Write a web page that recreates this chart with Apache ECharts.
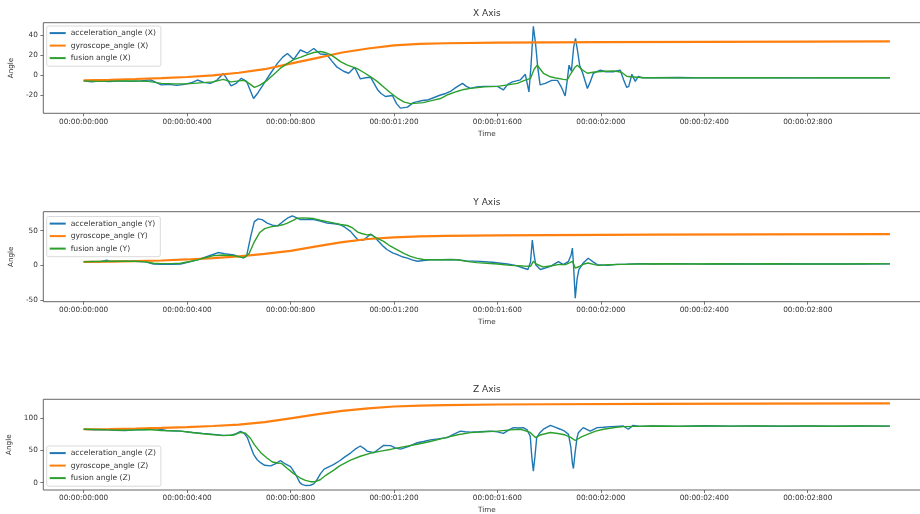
<!DOCTYPE html>
<html>
<head>
<meta charset="utf-8">
<title>Angle estimation per axis</title>
<script src="https://cdn.jsdelivr.net/npm/echarts@6/dist/echarts.min.js"></script>
<style>
  html, body { margin: 0; padding: 0; background: #ffffff; }
  #chart { width: 920px; height: 514px; }
</style>
</head>
<body>
<div id="chart"></div>
<script>
// Time axis ticks (milliseconds) and their printed labels
const timeTicks = [0, 400, 800, 1200, 1600, 2000, 2400, 2800];
const timeTickLabels = ['00:00:00:000', '00:00:00:400', '00:00:00:800', '00:00:01:200',
                        '00:00:01:600', '00:00:02:000', '00:00:02:400', '00:00:02:800'];

// Angle ticks for each panel
const angleTicksX = [-20, 0, 20, 40];
const angleTicksY = [-50, 0, 50];
const angleTicksZ = [0, 50, 100];

// ---- X axis: [time ms, angle deg] ----
const accelX = [[0,-5.5],[30,-6.5],[60,-5.8],[100,-6.2],[140,-5.5],[180,-6],[220,-5.5],[259,-4.5],[280,-7],[300,-9.5],[330,-9],[360,-10],[390,-9],[420,-7],[440,-4.7],[465,-7],[490,-8],[515,-5],[540,1.8],[555,-4],[570,-10.5],[590,-8],[610,-3],[630,-6],[657,-23],[675,-17],[690,-11],[705,-5],[723,2],[750,12],[770,18],[788,21.5],[812,15.5],[838,25],[865,22],[890,26.5],[915,21],[940,20.5],[960,14],[980,8],[1005,4],[1025,2],[1048,8],[1070,-3.5],[1090,-2.5],[1110,-2],[1136,-14],[1150,-18],[1167,-21],[1194,-20],[1210,-28],[1225,-32.5],[1252,-31.5],[1275,-27],[1291,-26],[1310,-25],[1329,-24.5],[1355,-22],[1380,-19.5],[1400,-18],[1418,-16],[1440,-12],[1465,-8],[1480,-11],[1496,-13],[1520,-11.5],[1546,-11],[1575,-11],[1600,-11],[1623,-14.5],[1640,-9],[1658,-6.5],[1689,-4.5],[1708,1],[1722,-16.5],[1730,10],[1739,48.5],[1748,30],[1756,8],[1765,-9.5],[1785,-8],[1810,-5],[1832,-5],[1848,-12],[1862,-20.5],[1870,-5],[1877,10],[1886,4],[1895,28],[1902,36.5],[1910,24],[1918,10],[1930,2],[1948,-13],[1960,-6],[1971,2],[1998,5],[2020,3.5],[2048,3.5],[2075,5],[2088,-4.5],[2100,-12],[2108,-11],[2120,1],[2133,-6],[2145,-1],[2160,-2.5],[2200,-2.5],[2300,-2.2],[2400,-2.6],[2500,-2.3],[2600,-2.4],[2700,-2.5],[2800,-2.6],[2900,-2.4],[3000,-2.5],[3118,-2.4]];
const gyroX = [[0,-5],[100,-4.5],[200,-3.7],[300,-2.8],[400,-1.7],[500,0],[600,2.5],[700,6],[800,11.5],[900,17],[1000,22.5],[1100,26.5],[1200,29.5],[1300,31],[1400,31.7],[1600,32.2],[1800,32.5],[2000,32.7],[2400,33],[2800,33.3],[3118,33.5]];
const fusionX = [[0,-5.5],[50,-6],[100,-5.8],[150,-5.5],[200,-5.7],[250,-6],[300,-8],[350,-8.5],[400,-8.5],[450,-7.5],[500,-6.5],[540,-4],[570,-6.5],[600,-5.5],[620,-5],[640,-8],[660,-12],[680,-10],[710,-5],[740,2],[761,7],[790,12],[812,15.5],[840,18],[865,20.5],[890,22.5],[915,23.5],[935,22.5],[955,20.5],[975,17],[993,13.5],[1020,10],[1058,6.5],[1085,2.5],[1110,-1.5],[1135,-6],[1160,-11.5],[1185,-17],[1213,-22.5],[1240,-26.5],[1264,-28],[1290,-27.5],[1314,-27],[1345,-25],[1380,-23],[1410,-19],[1444,-16],[1470,-14],[1496,-13],[1550,-11.5],[1600,-11],[1640,-9.5],[1677,-8],[1705,-5],[1728,-3],[1742,6],[1754,10],[1766,6],[1778,2],[1805,-1.5],[1832,-3],[1855,-4],[1870,-4.5],[1885,2],[1900,8],[1909,10],[1925,6],[1948,2],[1970,3],[1986,3.5],[2020,4],[2048,4.3],[2080,3],[2100,-1],[2114,-1.5],[2140,-2],[2170,-2.5],[2250,-2.3],[2350,-2.6],[2450,-2.3],[2550,-2.5],[2650,-2.4],[2750,-2.6],[2850,-2.4],[2950,-2.5],[3050,-2.4],[3118,-2.5]];

// ---- Y axis ----
const accelY = [[0,5],[30,5.5],[60,5],[90,7.5],[100,5.5],[150,6],[200,6],[240,5],[270,2],[300,1.5],[340,1.5],[375,2],[410,5],[440,8],[470,12],[503,16],[520,18.5],[545,17],[580,15],[600,13],[618,11],[630,13],[645,40],[660,63],[675,67],[690,66],[710,61],[730,58],[750,57],[770,63],[788,68],[807,71.5],[822,69],[838,66],[865,66],[890,66],[915,64],[942,61],[970,60],[993,58.5],[1010,55],[1032,49],[1048,42],[1060,37],[1083,36.5],[1100,42],[1112,45],[1125,41],[1141,34.5],[1160,27],[1174,22.5],[1195,18],[1213,15.5],[1235,12],[1252,10.5],[1270,8],[1291,6],[1315,7],[1341,8.2],[1380,8],[1420,8.5],[1444,8],[1480,6.5],[1534,5.8],[1580,4.5],[1638,2],[1670,0],[1700,-3.8],[1718,-6],[1728,5],[1735,36.5],[1742,15],[1748,1],[1766,-6],[1785,-4],[1805,-1.4],[1836,5.5],[1855,1],[1875,5.8],[1885,15],[1890,25],[1895,-3.8],[1901,-47.5],[1908,-20],[1915,-6],[1932,3.4],[1951,10.2],[1970,5],[1986,1],[2025,0],[2060,1.5],[2100,1.8],[2150,2.5],[2200,2],[2300,2.5],[2400,1.8],[2500,2.3],[2600,2],[2700,2.4],[2800,1.9],[2900,2.2],[3000,2],[3118,2.1]];
const gyroY = [[0,5],[100,5.3],[200,6],[300,7],[400,8.5],[500,10.5],[600,13],[700,16.5],[800,21],[900,27.5],[1000,33.5],[1100,38],[1200,40.5],[1300,41.8],[1400,42.5],[1600,43.2],[1800,43.7],[2200,44.2],[2600,44.6],[3118,45]];
const fusionY = [[0,5],[50,5.5],[100,6],[150,6],[200,6],[240,5],[270,3],[300,2.5],[340,2.5],[375,3],[410,5.5],[440,8],[470,11],[503,14],[540,15],[580,14],[618,11],[640,17],[660,34],[680,47],[700,53],[723,55.5],[750,57],[770,58.5],[788,61],[810,65],[826,68],[850,68.5],[870,68],[890,67.5],[915,65],[942,63],[970,61],[993,59],[1020,57.5],[1040,54],[1060,48],[1075,46],[1095,44],[1110,44.5],[1130,40],[1160,34.5],[1185,28],[1213,22.5],[1240,17],[1264,13],[1290,10],[1314,8.5],[1350,8],[1400,8.2],[1447,8],[1480,6],[1520,4],[1560,3],[1600,2],[1650,0],[1700,-1],[1728,-1.4],[1739,5.8],[1750,2],[1778,-2.4],[1810,-0.5],[1840,1.5],[1863,1],[1880,4],[1890,5.8],[1901,-3.8],[1915,-2],[1935,2],[1951,3.4],[1975,1],[1990,0],[2030,0.8],[2080,1.5],[2150,2],[2250,2.3],[2350,1.9],[2450,2.4],[2550,2],[2650,2.3],[2750,1.9],[2850,2.2],[2950,2],[3050,2.3],[3118,2.1]];

// ---- Z axis ----
const accelZ = [[0,83],[40,82],[80,82.5],[120,81.5],[160,81],[200,82],[240,82.5],[280,84],[320,81],[375,80],[420,78],[460,76.5],[503,75],[540,73.5],[568,73.5],[590,76],[607,79.5],[620,77],[633,70],[645,57],[657,44],[670,36],[684,31],[700,27],[723,26],[745,30],[761,34.5],[780,29],[800,25],[815,16],[826,8],[836,0],[846,-3],[860,-4.5],[877,-4],[890,-2],[903,5],[916,14],[930,21],[950,25],[966,28],[990,34],[1010,40],[1032,46],[1050,52],[1070,57],[1085,53],[1096,49],[1122,46.5],[1140,52],[1160,58],[1187,57.5],[1205,54],[1225,52],[1255,56],[1290,62],[1315,64],[1341,66.5],[1370,68],[1406,70],[1430,75],[1457,80],[1475,79],[1496,78.5],[1530,79],[1573,80],[1600,79],[1623,76.5],[1645,82],[1662,85.5],[1680,85],[1700,85.5],[1715,82],[1727,72],[1733,40],[1739,18],[1745,40],[1752,70],[1765,78],[1778,83],[1805,89],[1825,86],[1843,83],[1860,80],[1875,75],[1884,55],[1890,30],[1894,22],[1900,45],[1908,70],[1913,77.5],[1932,85.5],[1959,80],[1986,85.5],[2010,86],[2037,87],[2060,87.5],[2087,88],[2106,83],[2125,89],[2150,87.5],[2200,88],[2300,87.5],[2400,88.3],[2500,87.8],[2600,88],[2700,87.6],[2800,88.1],[2900,87.8],[3000,88],[3118,87.8]];
const gyroZ = [[0,83],[100,83.3],[200,84],[300,85],[400,86.3],[500,88],[600,90.3],[700,94],[800,100],[900,106],[1000,111.5],[1100,115.5],[1200,118.3],[1300,119.8],[1400,120.6],[1600,121.4],[1800,121.8],[2200,122.4],[2600,122.8],[3118,123.2]];
const fusionZ = [[0,83],[50,82.5],[100,82],[150,81.5],[200,82],[250,82.5],[300,81],[375,80],[420,78],[460,76],[503,74.5],[540,73],[580,74],[607,78],[625,77],[645,69],[660,59],[684,47],[710,38],[730,32],[750,30.5],[765,30],[788,22],[812,14],[835,8],[855,4],[877,1.5],[895,1.5],[915,4.5],[935,11],[966,19],[990,26],[1032,35],[1070,41],[1110,46],[1150,49],[1190,52],[1240,56],[1290,59.6],[1340,64],[1400,70],[1447,74.5],[1496,77.7],[1550,79],[1600,80],[1650,82],[1690,83],[1727,78],[1747,70],[1765,74],[1805,78],[1840,76],[1863,74],[1885,70],[1901,65.5],[1925,71],[1948,75],[1980,80],[2010,83],[2060,86],[2087,87],[2130,87.5],[2200,88],[2300,87.7],[2400,88.1],[2500,87.9],[2600,88.2],[2700,87.8],[2800,88],[2900,87.7],[3000,88.1],[3118,87.9]];

const BLUE = '#1f77b4', ORANGE = '#ff7f0e', GREEN = '#2ca02c';
const FONT = 'DejaVu Sans';
const TEXT = '#333333';

const panels = [
  { key: 'X', title: 'X Axis', top: 22.7, height: 90.6, yMin: -37.6, yMax: 52, yTicks: angleTicksX,
    acc: accelX, gyro: gyroX, fus: fusionX, legendTop: 26 },
  { key: 'Y', title: 'Y Axis', top: 211.7, height: 90, yMin: -52.4, yMax: 77.4, yTicks: angleTicksY,
    acc: accelY, gyro: gyroY, fus: fusionY, legendTop: 216.5 },
  { key: 'Z', title: 'Z Axis', top: 399.3, height: 90.7, yMin: -11.4, yMax: 129.5, yTicks: angleTicksZ,
    acc: accelZ, gyro: gyroZ, fus: fusionZ, legendTop: 446 }
];

const plotLeft = 43.3;
const plotWidth = 887;
const plotCenter = plotLeft + plotWidth / 2;

const option = {
  animation: false,
  backgroundColor: '#ffffff',
  textStyle: { fontFamily: FONT },
  title: panels.map(p => ({
    text: p.title,
    left: plotCenter,
    textAlign: 'center',
    top: p.top - 14,
    padding: 0,
    textStyle: { fontFamily: FONT, fontSize: 9, fontWeight: 'normal', color: TEXT }
  })),
  grid: panels.map(p => ({
    left: plotLeft, top: p.top, width: plotWidth, height: p.height,
    show: true, borderColor: '#555555', borderWidth: 0.9, backgroundColor: 'transparent',
    containLabel: false, outerBoundsMode: 'none'
  })),
  xAxis: panels.map((p, i) => ({
    type: 'value', gridIndex: i, min: -156, max: 3274, position: 'bottom',
    name: 'Time', nameLocation: 'middle', nameGap: 17,
    nameTextStyle: { fontFamily: FONT, fontSize: 7.2, color: TEXT },
    axisLine: { show: false, onZero: false },
    splitLine: { show: false },
    axisTick: { show: true, length: 3, inside: false, customValues: timeTicks,
                lineStyle: { color: '#555555', width: 0.8 } },
    axisLabel: { show: true, margin: 5, fontFamily: FONT, fontSize: 7.3, color: TEXT,
                 customValues: timeTicks,
                 formatter: v => { const k = timeTicks.indexOf(v); return k >= 0 ? timeTickLabels[k] : ''; } }
  })),
  yAxis: panels.map((p, i) => ({
    type: 'value', gridIndex: i, min: p.yMin, max: p.yMax, position: 'left',
    name: 'Angle', nameLocation: 'middle', nameGap: 24, nameRotate: 90,
    nameTextStyle: { fontFamily: FONT, fontSize: 7.2, color: TEXT },
    axisLine: { show: false, onZero: false },
    splitLine: { show: false },
    axisTick: { show: true, length: 3, inside: false, customValues: p.yTicks,
                lineStyle: { color: '#555555', width: 0.8 } },
    axisLabel: { show: true, margin: 5.5, fontFamily: FONT, fontSize: 7.3, color: TEXT,
                 customValues: p.yTicks }
  })),
  legend: panels.map(p => ({
    orient: 'vertical',
    left: 46.7, top: p.legendTop,
    data: ['acceleration_angle (' + p.key + ')', 'gyroscope_angle (' + p.key + ')', 'fusion angle (' + p.key + ')'],
    icon: 'rect', itemWidth: 16, itemHeight: 2, itemGap: 4.3,
    padding: [3, 5, 4, 3],
    backgroundColor: 'rgba(255,255,255,0.85)',
    borderColor: '#d0d0d0', borderWidth: 0.8, borderRadius: 2,
    textStyle: { fontFamily: FONT, fontSize: 7.6, color: TEXT, lineHeight: 8.2 },
    selectedMode: false
  })),
  series: []
};

panels.forEach((p, i) => {
  const common = { type: 'line', xAxisIndex: i, yAxisIndex: i, symbol: 'none', showSymbol: false,
                   smooth: false, clip: true, emphasis: { disabled: true } };
  option.series.push(Object.assign({}, common, {
    name: 'acceleration_angle (' + p.key + ')', data: p.acc, color: BLUE,
    lineStyle: { color: BLUE, width: 1.4 }
  }));
  option.series.push(Object.assign({}, common, {
    name: 'gyroscope_angle (' + p.key + ')', data: p.gyro, color: ORANGE,
    lineStyle: { color: ORANGE, width: 2.2 }
  }));
  option.series.push(Object.assign({}, common, {
    name: 'fusion angle (' + p.key + ')', data: p.fus, color: GREEN,
    lineStyle: { color: GREEN, width: 1.4 }
  }));
});

const chart = echarts.init(document.getElementById('chart'), null, { renderer: 'canvas' });
chart.setOption(option);
</script>
</body>
</html>
